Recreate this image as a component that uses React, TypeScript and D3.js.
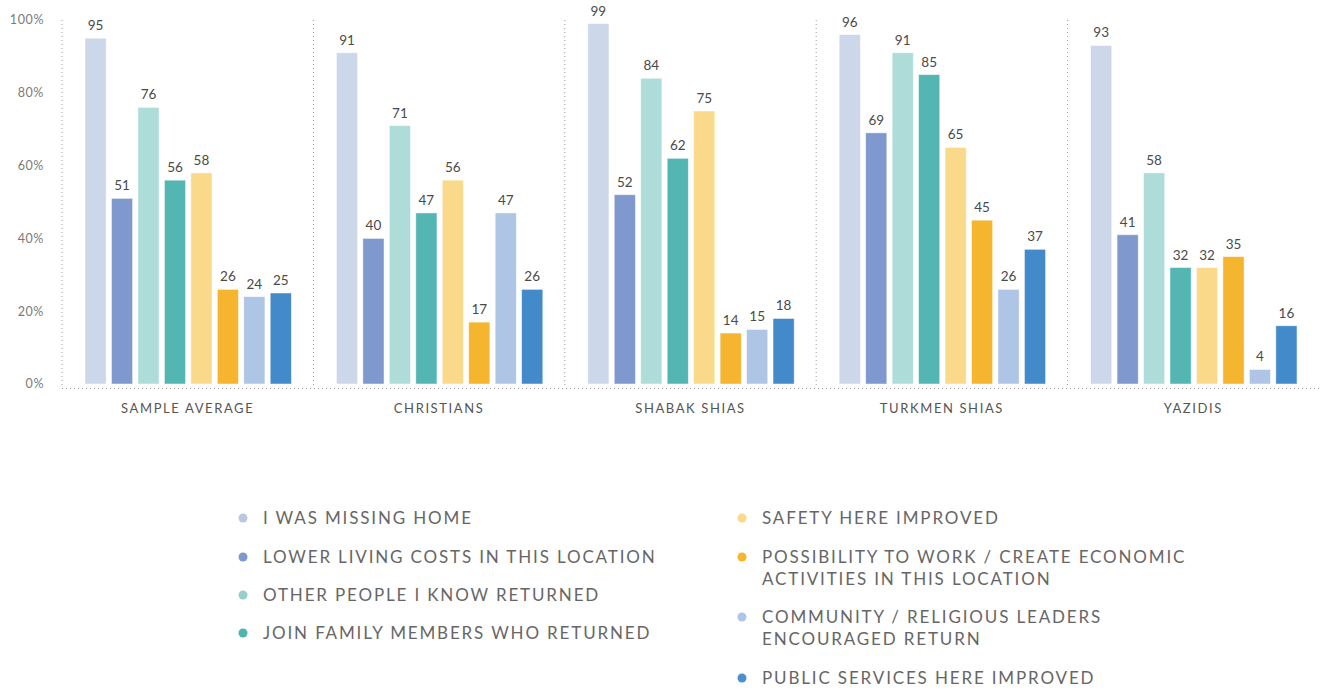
import React, { useEffect, useRef } from "react";
import * as d3 from "d3";

const groups = ["SAMPLE AVERAGE", "CHRISTIANS", "SHABAK SHIAS", "TURKMEN SHIAS", "YAZIDIS"];
const seriesNames = [
  "I WAS MISSING HOME",
  "LOWER LIVING COSTS IN THIS LOCATION",
  "OTHER PEOPLE I KNOW RETURNED",
  "JOIN FAMILY MEMBERS WHO RETURNED",
  "SAFETY HERE IMPROVED",
  "POSSIBILITY TO WORK / CREATE ECONOMIC ACTIVITIES IN THIS LOCATION",
  "COMMUNITY / RELIGIOUS LEADERS ENCOURAGED RETURN",
  "PUBLIC SERVICES HERE IMPROVED",
];
const legendLines = [
  ["I WAS MISSING HOME"],
  ["LOWER LIVING COSTS IN THIS LOCATION"],
  ["OTHER PEOPLE I KNOW RETURNED"],
  ["JOIN FAMILY MEMBERS WHO RETURNED"],
  ["SAFETY HERE IMPROVED"],
  ["POSSIBILITY TO WORK / CREATE ECONOMIC", "ACTIVITIES IN THIS LOCATION"],
  ["COMMUNITY / RELIGIOUS LEADERS", "ENCOURAGED RETURN"],
  ["PUBLIC SERVICES HERE IMPROVED"],
];
const colors = ["#CCD8EA", "#7F98CD", "#AEDDD9", "#53B6B2", "#FBD98A", "#F6B52E", "#AEC5E6", "#428ACA"];
const legendDotColors = ["#B9C8E0", "#7F98CD", "#97D0CB", "#4FB3AE", "#FBD98A", "#F6B52E", "#AEC5E6", "#4A90D0"];

const sampleAverage = [95, 51, 76, 56, 58, 26, 24, 25];
const christians = [91, 40, 71, 47, 56, 17, 47, 26];
const shabakShias = [99, 52, 84, 62, 75, 14, 15, 18];
const turkmenShias = [96, 69, 91, 85, 65, 45, 26, 37];
const yazidis = [93, 41, 58, 32, 32, 35, 4, 16];
const values = [sampleAverage, christians, shabakShias, turkmenShias, yazidis];
const yTicks = [0, 20, 40, 60, 80, 100];

const FONT = "Lato, 'Open Sans', sans-serif";

export default function App() {
  const ref = useRef<SVGSVGElement>(null);
  useEffect(() => {
    const svg = d3.select(ref.current);
    svg.selectAll("*").remove();
    const x0 = d3.scaleBand<string>().domain(groups).range([62, 1319]);
    const x1 = d3.scaleBand<number>().domain(d3.range(8)).range([23, x0.bandwidth() - 22]).paddingInner(0.2);
    const y = d3.scaleLinear().domain([0, 100]).range([384, 20]);

    // y tick labels
    svg.append("g").selectAll("text").data(yTicks).join("text")
      .attr("x", 44).attr("y", (d) => y(d)).attr("dy", "0.35em")
      .attr("text-anchor", "end").attr("font-family", FONT).attr("font-size", 12.5)
      .attr("fill", "#7a7a7a").attr("letter-spacing", 0.6).text((d) => d + "%");

    // separators
    svg.append("g").selectAll("line").data(groups).join("line")
      .attr("x1", (d) => x0(d)!).attr("x2", (d) => x0(d)!)
      .attr("y1", y(100)).attr("y2", 388)
      .attr("stroke", "#9a9a9a").attr("stroke-width", 1).attr("stroke-dasharray", "1,3");
    // x axis
    svg.append("line").attr("x1", 62).attr("x2", 1321).attr("y1", 388.5).attr("y2", 388.5)
      .attr("stroke", "#9a9a9a").attr("stroke-width", 1).attr("stroke-dasharray", "1,3");

    const g = svg.append("g").selectAll("g").data(groups).join("g")
      .attr("transform", (d) => `translate(${x0(d)},0)`);
    g.selectAll("rect").data((d, i) => values[i].map((v, k) => ({ v, k }))).join("rect")
      .attr("x", (d) => x1(d.k)!).attr("width", x1.bandwidth())
      .attr("y", (d) => y(d.v)).attr("height", (d) => y(0) - y(d.v))
      .attr("fill", (d) => colors[d.k]).attr("stroke", "#fff").attr("stroke-opacity", 0.6).attr("stroke-width", 0.8);
    g.selectAll("text.v").data((d, i) => values[i].map((v, k) => ({ v, k }))).join("text")
      .attr("class", "v")
      .attr("x", (d) => x1(d.k)! + x1.bandwidth() / 2).attr("y", (d) => y(d.v) - 8)
      .attr("text-anchor", "middle").attr("font-family", FONT).attr("font-size", 13.5)
      .attr("fill", "#4a4a4a").text((d) => d.v);
    g.append("text").attr("x", x0.bandwidth() / 2).attr("y", 413)
      .attr("text-anchor", "middle").attr("font-family", FONT).attr("font-size", 13)
      .attr("letter-spacing", 1.6).attr("fill", "#555").text((d) => d);

    // legend
    const legendPos = [
      [243, 518], [243, 557], [243, 595], [243, 633],
      [742, 518], [742, 557], [742, 617], [742, 678],
    ];
    const lg = svg.append("g").selectAll("g").data(seriesNames).join("g")
      .attr("transform", (d, i) => `translate(${legendPos[i][0]},${legendPos[i][1]})`);
    lg.append("circle").attr("r", 4.5).attr("cx", 0).attr("cy", 0).attr("fill", (d, i) => legendDotColors[i]);
    lg.each(function (d, i) {
      const t = d3.select(this).append("text").attr("font-family", FONT).attr("font-size", 17)
        .attr("letter-spacing", 1.85).attr("fill", "#666");
      legendLines[i].forEach((line, j) => {
        t.append("tspan").attr("x", 20).attr("y", j * 22.5).attr("dy", "0.35em").text(line);
      });
    });
  }, []);
  return (
    <div style={{ position: "absolute", left: 0, top: 0 }}>
      <svg ref={ref} width={1321} height={691} style={{ display: "block", background: "#fff" }} />
    </div>
  );
}
